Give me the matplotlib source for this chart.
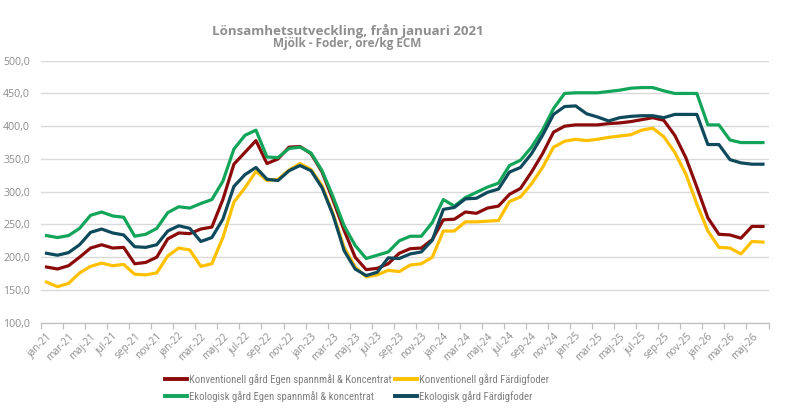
import matplotlib
matplotlib.use("Agg")
import matplotlib.pyplot as plt
from matplotlib.lines import Line2D
from matplotlib.ticker import FuncFormatter, FixedLocator
from matplotlib import font_manager as fm

# ---- data -------------------------------------------------------------
month_names = ['jan', 'feb', 'mar', 'apr', 'maj', 'jun',
               'jul', 'aug', 'sep', 'okt', 'nov', 'dec']
years = ['21', '22', '23', '24', '25', '26']
n_months = 66  # jan-21 .. jun-26
categories = [f"{month_names[i % 12]}-{years[i // 12]}" for i in range(n_months)]

konv_egen = [185, 182, 187, 200, 214, 219, 214, 215, 190, 192, 200, 228,
             237, 236, 243, 246, 288, 342, 360, 378, 343, 350, 368, 369,
             358, 330, 287, 241, 200, 181, 183, 190, 206, 213, 214, 227,
             257, 258, 269, 267, 275, 278, 296, 305, 330, 358, 391, 400,
             402, 402, 402, 404, 405, 407, 410, 413, 409, 386, 352, 307,
             260, 235, 234, 229, 247, 247]
konv_fard = [162, 155, 160, 176, 186, 191, 187, 189, 174, 173, 176, 202,
             214, 211, 186, 190, 230, 284, 306, 331, 317, 319, 333, 343,
             334, 309, 266, 215, 185, 170, 173, 180, 178, 188, 190, 200,
             240, 240, 254, 254, 255, 256, 285, 292, 312, 337, 368, 377,
             380, 378, 380, 383, 385, 387, 394, 397, 384, 360, 327, 281,
             240, 215, 214, 205, 224, 223]
eko_egen = [233, 230, 233, 244, 264, 269, 263, 261, 232, 235, 244, 268,
            277, 275, 282, 288, 316, 365, 386, 394, 353, 352, 366, 368,
            359, 332, 292, 248, 218, 198, 203, 208, 225, 232, 232, 253,
            288, 278, 291, 299, 307, 313, 340, 348, 368, 394, 427, 450,
            451, 451, 451, 453, 455, 458, 459, 459, 454, 450, 450, 450,
            402, 402, 379, 375, 375, 375]
eko_fard = [206, 203, 207, 219, 238, 243, 237, 234, 216, 215, 219, 240,
            248, 244, 224, 230, 258, 308, 326, 337, 319, 317, 332, 340,
            332, 306, 264, 210, 182, 172, 177, 199, 198, 205, 208, 226,
            273, 276, 289, 290, 299, 304, 330, 337, 358, 386, 418, 430,
            431, 419, 414, 408, 413, 415, 416, 416, 413, 418, 418, 418,
            372, 372, 349, 344, 342, 342]

series_labels = ['Konventionell gård Egen spannmål & Koncentrat',
                 'Konventionell gård Färdigfoder',
                 'Ekologisk gård Egen spannmål & koncentrat',
                 'Ekologisk gård Färdigfoder']
series_values = [konv_egen, konv_fard, eko_egen, eko_fard]
series_colors = ['#8B0B0B', '#FFC000', '#12A55A', '#0F4A5C']

title = 'Lönsamhetsutveckling, från januari 2021'
subtitle = 'Mjölk - Foder, öre/kg ECM'


def pick_font(cands, default='DejaVu Sans'):
    for c in cands:
        try:
            fm.findfont(fm.FontProperties(family=c), fallback_to_default=False)
            return c
        except Exception:
            pass
    return default


narrow = pick_font(['Liberation Sans Narrow', 'Roboto Condensed', 'Open Sans Condensed',
                    'Arial Narrow', 'DejaVu Sans Condensed'], 'Roboto')

# ---- figure -----------------------------------------------------------
fig = plt.figure(figsize=(7.85, 4.12), dpi=100)
renderer = fig.canvas.get_renderer()


def fit_width(txt, target_px):
    """scale a text's font size so that its rendered width matches target_px"""
    for _ in range(3):
        w = txt.get_window_extent(renderer).width
        if w > 0:
            txt.set_fontsize(txt.get_fontsize() * target_px / w)


ax = fig.add_axes([41 / 785, 1 - 322.7 / 412, (768.5 - 41) / 785, (322.7 - 60.7) / 412])

x = list(range(n_months))
for vals, col, lab in zip(series_values, series_colors, series_labels):
    ax.plot(x, vals, color=col, lw=2.3, label=lab, solid_joinstyle='round')

ax.set_xlim(-0.5, n_months - 0.5)
ax.set_ylim(100, 500)

grid_col = '#D9D9D9'
ax.set_yticks(range(100, 501, 50))
ax.yaxis.grid(True, color=grid_col, lw=1.0)
ax.set_axisbelow(True)
for s in ['top', 'right', 'left']:
    ax.spines[s].set_visible(False)
ax.spines['bottom'].set_color('#BFBFBF')
ax.spines['bottom'].set_linewidth(0.9)

txt_col = '#8C8C8C'
ax.yaxis.set_major_formatter(FuncFormatter(lambda v, p: f"{v:.1f}".replace('.', ',')))
ax.tick_params(axis='y', length=0, pad=8, labelsize=7.6, labelcolor=txt_col)
for t in ax.get_yticklabels():
    t.set_fontfamily(['Open Sans', 'DejaVu Sans'])

label_pos = list(range(0, n_months, 2))
ax.set_xticks(label_pos)
ax.set_xticklabels([categories[i] for i in label_pos], rotation=45, ha='right',
                   rotation_mode='anchor', fontsize=7.3, color=txt_col,
                   family=['Open Sans', 'DejaVu Sans'])
ax.tick_params(axis='x', which='major', length=0, pad=6)
ax.xaxis.set_minor_locator(FixedLocator([i - 0.5 for i in range(0, n_months + 1, 2)]))
ax.tick_params(axis='x', which='minor', length=4, color='#BFBFBF', width=0.9)

t1 = fig.text(347.5 / 785, 1 - 34.5 / 412, title, ha='center', va='baseline',
              fontsize=10.6, fontweight='bold', color='#8E8E8E',
              family=['Open Sans', 'DejaVu Sans'])
fit_width(t1, 271)
t2 = fig.text(347.5 / 785, 1 - 46.5 / 412, subtitle, ha='center', va='baseline',
              fontsize=8.5, fontweight='bold', color='#8E8E8E',
              family=['Open Sans', 'DejaVu Sans'])
fit_width(t2, 148)

# size of the legend font: longest entry about 203 px wide
probe = fig.text(0, 0, series_labels[0], fontsize=8, family=[narrow, 'DejaVu Sans'])
fit_width(probe, 203)
leg_size = probe.get_fontsize()
probe.remove()

# legend filled row-wise like the reference (matplotlib fills column-wise)
order = [0, 2, 1, 3]
handles = [Line2D([], [], color=series_colors[i], lw=2.8) for i in order]
labels = [series_labels[i] for i in order]
leg = fig.legend(handles, labels, ncol=2, loc='center',
                 bbox_to_anchor=(357 / 785, 1 - 388 / 412), frameon=False,
                 handlelength=2.1, handletextpad=0.2, columnspacing=0.3,
                 labelspacing=0.6,
                 prop={'family': [narrow, 'DejaVu Sans'], 'size': leg_size})
for t in leg.get_texts():
    t.set_color('#7F7F7F')

fig.savefig('out.png', dpi=100)
